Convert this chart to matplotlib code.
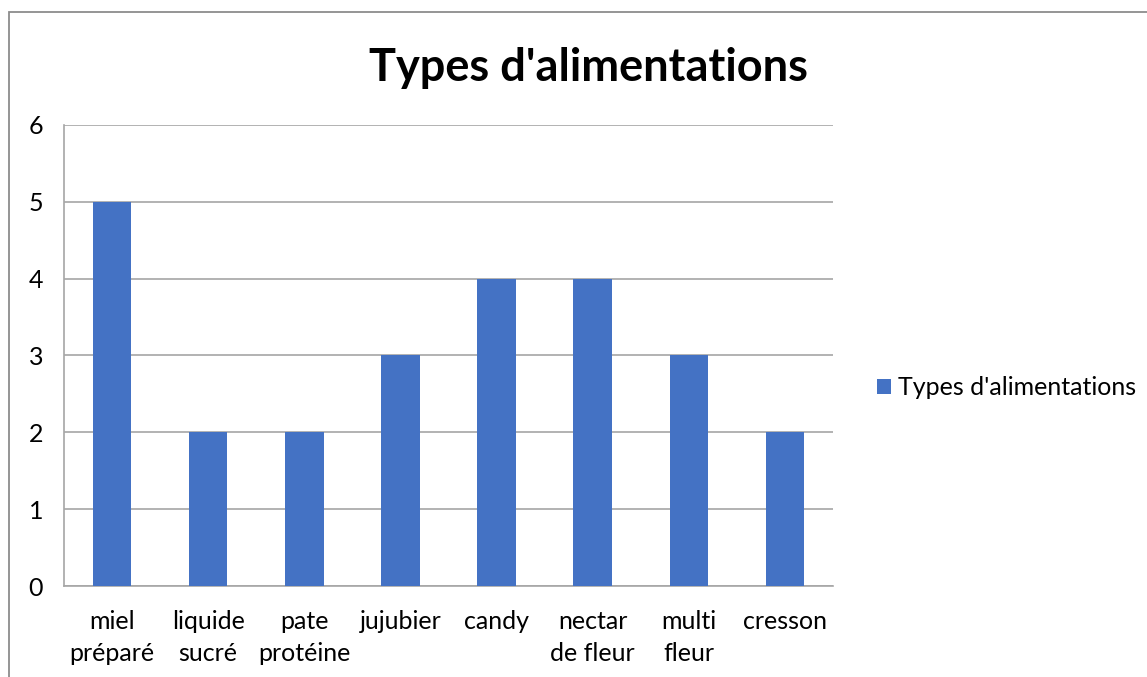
import matplotlib
matplotlib.use('Agg')
import matplotlib.pyplot as plt
from matplotlib.patches import Rectangle

plt.rcParams['font.family'] = ['Lato', 'DejaVu Sans']

categories = ['miel\npréparé', 'liquide\nsucré', 'pate\nprotéine', 'jujubier',
              'candy', 'nectar\nde fleur', 'multi\nfleur', 'cresson']
values = [5, 2, 2, 3, 4, 4, 3, 2]
series_name = "Types d'alimentations"
bar_color = '#4472C4'
grid_color = '#A6A6A6'

fig = plt.figure(figsize=(11.47, 6.77), dpi=100)
ax = fig.add_axes([0.0558, 0.1344, 0.6704, 0.681])

x = range(len(values))
ax.bar(x, values, width=0.4, color=bar_color, label=series_name, zorder=3)

ax.set_xlim(-0.5, len(values) - 0.5)
ax.set_ylim(0, 6)
ax.set_yticks(range(0, 7))
ax.set_xticks(list(x))
ax.set_xticklabels(categories, fontsize=18, linespacing=1.48)
ax.tick_params(axis='both', length=0, labelsize=18, colors='black')
ax.tick_params(axis='x', pad=17)
ax.tick_params(axis='y', pad=15)

ax.yaxis.grid(True, color=grid_color, linewidth=1.2, zorder=0)
for side in ['top', 'right']:
    ax.spines[side].set_visible(False)
for side in ['left', 'bottom']:
    ax.spines[side].set_color(grid_color)
    ax.spines[side].set_linewidth(1.2)

fig.text(0.513, 0.899, series_name, fontsize=32.5, fontweight='bold',
         ha='center', va='center')

ax.legend(loc='center left', bbox_to_anchor=(1.028, 0.43), frameon=False,
          fontsize=18, handlelength=0.55, handleheight=0.55, handletextpad=0.3)

# outer chart border (only top and left are in view)
fig.add_artist(Rectangle((9 / 1147, -0.1), 1.2, 0.1 + (677 - 12) / 677,
                         transform=fig.transFigure, fill=False,
                         edgecolor='#8C8C8C', linewidth=1.3))

fig.savefig('out.png', dpi=100)
